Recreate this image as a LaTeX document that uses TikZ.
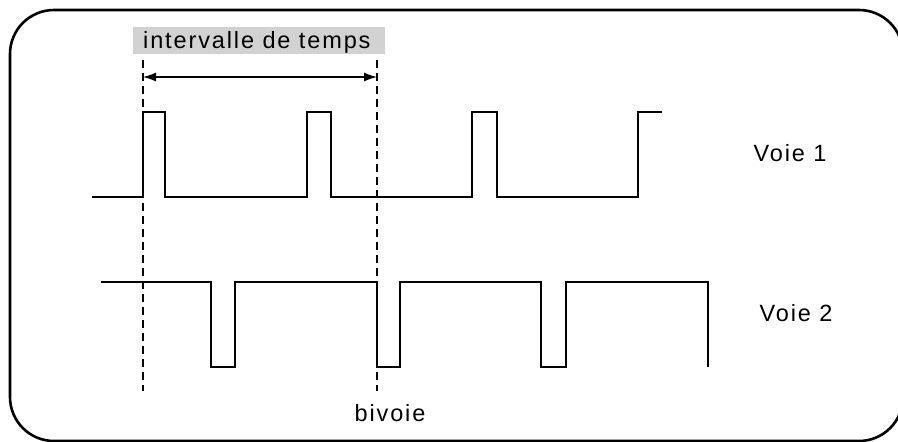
\documentclass[tikz,border=0pt]{standalone}
\usepackage{fontspec}
\setmainfont{Liberation Sans}[LetterSpace=8]
\usetikzlibrary{arrows.meta}
\definecolor{boxgray}{RGB}{210,210,210}
\tikzset{
  frame/.style={line width=2.6pt, rounded corners=44pt},
  signal/.style={line width=2.6pt, line join=miter},
  guide/.style={line width=2.3pt, dash pattern=on 8pt off 5pt},
  span/.style={line width=1.2pt, {Latex[length=13pt,width=9pt]}-{Latex[length=13pt,width=9pt]}},
  lbl/.style={font=\fontsize{23.5pt}{26pt}\selectfont, inner sep=0pt},
}
\begin{document}
\begin{tikzpicture}[x=1pt,y=-1pt]
\useasboundingbox (0,0) rectangle (898,442);
\clip (0,0) rectangle (898,442);
\draw[frame] (10,10) rectangle (903,441);

% gray label
\node[lbl, fill=boxgray, minimum width=252pt, minimum height=27pt, anchor=north west] (title) at (133,27) {};
\node[lbl, anchor=base west] (titletext) at (143,48) {intervalle de temps};

% Voie 1
\draw[signal] (92,197) -- (143,197) -- (143,112) -- (165,112) -- (165,197)
  -- (307,197) -- (307,112) -- (331,112) -- (331,197)
  -- (472,197) -- (472,112) -- (497,112) -- (497,197)
  -- (638,197) -- (638,112) -- (662,112);

% Voie 2
\draw[signal] (101,282) -- (211,282) -- (211,367) -- (235,367) -- (235,282)
  -- (377,282) -- (377,367) -- (400,367) -- (400,282)
  -- (541,282) -- (541,367) -- (566,367) -- (566,282)
  -- (708,282) -- (708,367);

% guides
\coordinate (g1top) at (143,60);
\coordinate (g1bot) at (143,391);
\coordinate (g2top) at (377,60);
\coordinate (g2bot) at (377,391);
\draw[guide] (g1top) -- (g1bot);
\draw[guide] (g2top) -- (g2bot);

\coordinate (a1) at (143,77);
\coordinate (a2) at (377,77);
\draw[span] (a1) -- (a2);

\node[lbl] (v1) at (790,153) {Voie 1};
\node[lbl] (v2) at (796,313) {Voie 2};
\node[lbl] (bv) at (390,413) {bivoie};
\end{tikzpicture}
\end{document}
